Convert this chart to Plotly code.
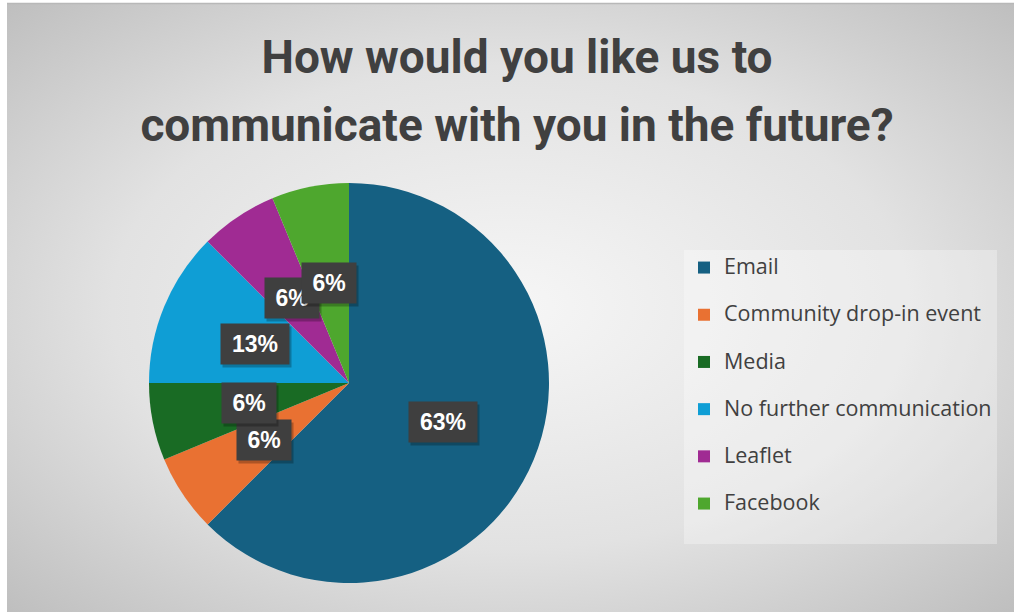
import base64
import math
import plotly.graph_objects as go

# Survey answers (respondent counts)
categories = ["Email", "Community drop-in event", "Media",
              "No further communication", "Leaflet", "Facebook"]
counts = [10, 1, 1, 2, 1, 1]
colors = ["#156082", "#E97132", "#196B24", "#0F9ED5", "#A02B93", "#4EA72E"]

W, H = 1014, 612
CX, CY, R = 349, 383, 200          # pie centre / radius in px

total = sum(counts)
pcts = [math.floor(c / total * 100 + 0.5) for c in counts]

# Legend entries: larger text with a spacer line for roomy rows
legend_labels = [f'<span style="font-size:21.5px">{c}</span><br> ' for c in categories]

fig = go.Figure()
fig.add_trace(go.Pie(
    labels=legend_labels,
    values=counts,
    customdata=categories,
    hovertemplate="%{customdata}: %{percent}<extra></extra>",
    sort=False,
    direction="clockwise",
    rotation=0,
    textinfo="none",
    marker=dict(colors=colors, line=dict(width=0)),
    domain=dict(x=[(CX - R) / W, (CX + R) / W],
                y=[1 - (CY + R) / H, 1 - (CY - R) / H]),
))

# Data labels: dark boxes at the middle of each slice
annotations = []
cum = 0
for c, p in zip(counts, pcts):
    mid = (cum + c / 2) / total * 2 * math.pi
    cum += c
    px = CX + 0.51 * R * math.sin(mid)
    py = CY - 0.51 * R * math.cos(mid)
    bw = 54 if p >= 10 else 40
    common = dict(xref="paper", yref="paper", x=px / W, y=1 - py / H,
                  showarrow=False, width=bw, height=26, borderpad=7,
                  xanchor="center", yanchor="middle")
    annotations.append(dict(text="", bgcolor="rgba(0,0,0,0.25)",
                            xshift=2, yshift=-3, **common))
    annotations.append(dict(text=f"<b>{p}%</b>", bgcolor="#3f3f3f",
                            font=dict(family="Liberation Sans", size=23, color="white"),
                            **common))

# Radial grey background of the chart area
svg = ('<svg xmlns="http://www.w3.org/2000/svg" width="1007" height="609">'
       '<defs><radialGradient id="g" cx="0.5" cy="0.5" r="0.72">'
       '<stop offset="0" stop-color="#f6f6f6"/>'
       '<stop offset="0.55" stop-color="#e2e2e2"/>'
       '<stop offset="1" stop-color="#bdbdbd"/>'
       '</radialGradient></defs>'
       '<rect width="1007" height="609" fill="url(#g)"/></svg>')
bg_src = "data:image/svg+xml;base64," + base64.b64encode(svg.encode()).decode()

title_text = ('<span style="font-size:46px">How would you like us to</span><br>'
              '<span style="font-size:46px">communicate with you in the future?</span>')

fig.update_layout(
    width=W, height=H,
    margin=dict(l=0, r=0, t=0, b=0),
    paper_bgcolor="white",
    images=[dict(source=bg_src, xref="paper", yref="paper",
                 x=7 / W, y=1 - 3 / H, sizex=1 - 7 / W, sizey=1 - 3 / H,
                 xanchor="left", yanchor="top", sizing="stretch", layer="below")],
    shapes=[dict(type="line", xref="paper", yref="paper",
                 x0=7 / W, x1=1, y0=1 - 3.5 / H, y1=1 - 3.5 / H,
                 line=dict(color="#b8b8b8", width=1.5))],
    title=dict(
        text=title_text,
        x=517 / W, xanchor="center",
        y=1 - 73 / H, yanchor="top",
        font=dict(family="Roboto", size=52, color="#404040", weight="bold"),
    ),
    showlegend=True,
    legend=dict(
        x=684 / W, y=1 - 250 / H, xanchor="left", yanchor="top",
        bgcolor="rgba(255,255,255,0.3)",
        font=dict(family="Open Sans", size=17, color="#404040"),
        valign="top",
    ),
    annotations=annotations,
)

fig.write_html("out.html")
